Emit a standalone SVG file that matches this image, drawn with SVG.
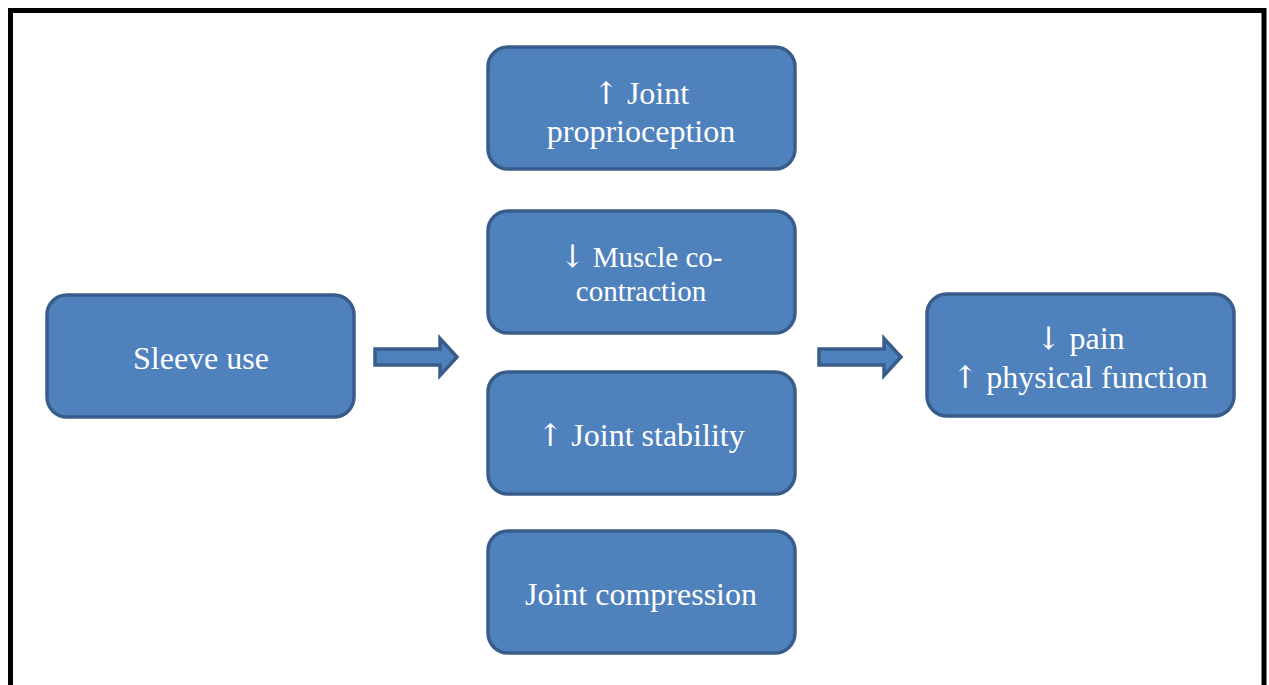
<svg xmlns="http://www.w3.org/2000/svg" width="1269" height="685" viewBox="0 0 1269 685">
<style>
.box{fill:#4F81BD;stroke:#385D8A;stroke-width:3.5}
.t{font-family:"Liberation Serif","Times New Roman",serif;font-size:32px;fill:#FFFFFF;text-anchor:middle}
.s{font-size:29px}
.a{font-family:"DejaVu Serif",serif;font-size:31px}
.arr{fill:#4F81BD;stroke:#385D8A;stroke-width:3.5;stroke-linejoin:miter}
</style>
<rect x="0" y="0" width="1269" height="685" fill="#FFFFFF"/>
<path d="M10.5 690 V10.5 H1264 V690" fill="none" stroke="#000000" stroke-width="5"/>
<g id="sleeve"><rect class="box" x="47" y="295" width="307" height="122" rx="20"/><text class="t" x="201" y="369">Sleeve use</text></g>
<g id="proprioception"><rect class="box" x="488" y="47" width="307" height="122" rx="20"/><text class="t" x="641" y="104"><tspan class="a">↑</tspan> Joint</text><text class="t" x="641" y="142">proprioception</text></g>
<g id="muscle"><rect class="box" x="488" y="211" width="307" height="122" rx="20"/><text class="t s" x="641" y="267"><tspan class="a">↓</tspan> Muscle co-</text><text class="t s" x="641" y="301">contraction</text></g>
<g id="stability"><rect class="box" x="488" y="372" width="307" height="122" rx="20"/><text class="t" x="641" y="446"><tspan class="a">↑</tspan> Joint stability</text></g>
<g id="compression"><rect class="box" x="488" y="531" width="307" height="122" rx="20"/><text class="t" x="641" y="605">Joint compression</text></g>
<g id="outcome"><rect class="box" x="927" y="294" width="307" height="122" rx="20"/><text class="t" x="1080" y="349"><tspan class="a">↓</tspan> pain</text><text class="t" x="1080" y="388"><tspan class="a">↑</tspan> physical function</text></g>
<g id="connectors">
<path class="arr" d="M375 349 H440 V338.5 L457 357 L440 375.5 V365 H375 Z"/>
<path class="arr" d="M819 349 H884 V338.5 L901 357 L884 375.5 V365 H819 Z"/>
</g>
</svg>
